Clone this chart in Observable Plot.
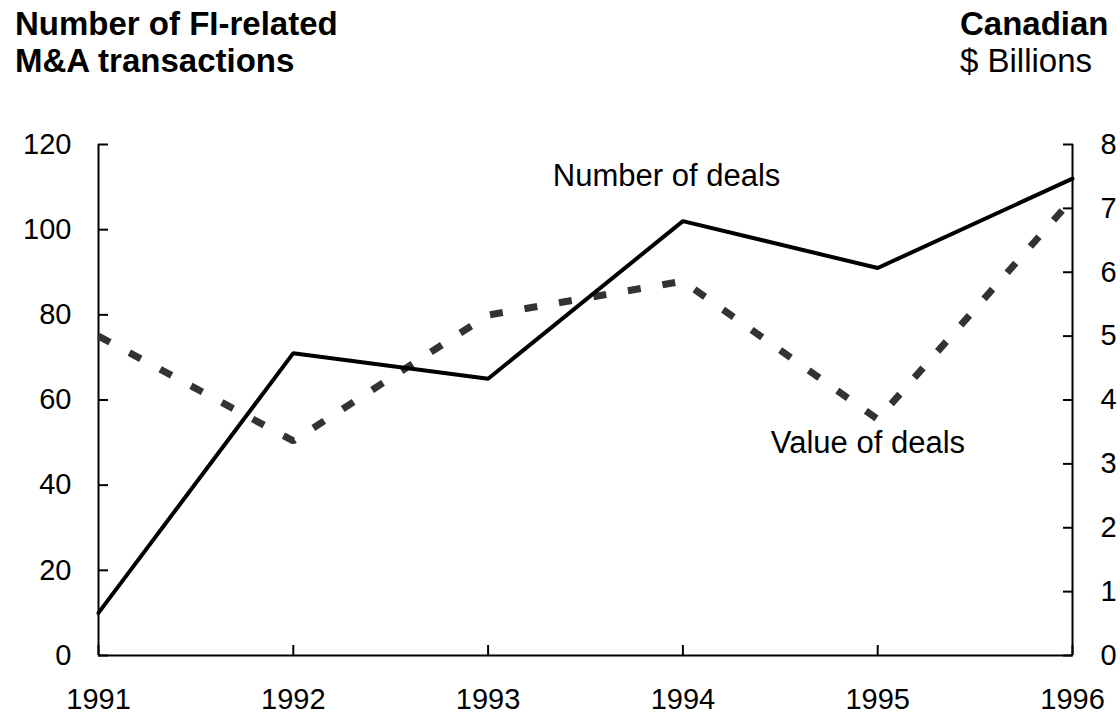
<!DOCTYPE html>
<html>
<head>
<meta charset="utf-8">
<script src="https://cdn.jsdelivr.net/npm/d3@7"></script>
<script src="https://cdn.jsdelivr.net/npm/@observablehq/plot@0.6"></script>
<style>
  html, body { margin: 0; padding: 0; background: #fff; }
  body { width: 1120px; height: 718px; overflow: hidden; font-family: "Liberation Sans", Arial, sans-serif; }
  #header { position: relative; height: 80px; width: 1120px; }
  .hdr { position: absolute; top: 5px; font-size: 33px; line-height: 37px; color: #000; white-space: nowrap; }
  #leftTitle { left: 15px; font-weight: bold; }
  #rightTitle { left: 960px; }
  #chart svg { display: block; }
</style>
</head>
<body>
<div id="header">
  <div id="leftTitle" class="hdr">Number of FI-related<br>M&amp;A transactions</div>
  <div id="rightTitle" class="hdr"><b>Canadian</b><br>$ Billions</div>
</div>
<div id="chart"></div>
<script>
// Data
const years = [1991, 1992, 1993, 1994, 1995, 1996];
const numberOfDeals = [10, 71, 65, 102, 91, 112];          // left axis (count)
const valueOfDeals = [5.0, 3.36, 5.33, 5.86, 3.7, 7.15];   // right axis ($ billions)
const leftTicks = [0, 20, 40, 60, 80, 100, 120];
const rightTicks = [0, 1, 2, 3, 4, 5, 6, 7, 8];
const rightToLeft = 15; // 8 billions ↔ 120 deals
const seriesLabels = [
  {text: "Number of deals", year: 1993.916, level: 112.7},
  {text: "Value of deals", year: 1994.95, level: 49.8}
];

const rows = years.map((y, i) => ({year: y, number: numberOfDeals[i], value: valueOfDeals[i]}));

const chart = Plot.plot({
  width: 1120,
  height: 638,
  marginTop: 64,
  marginBottom: 63,
  marginLeft: 98,
  marginRight: 48,
  style: {fontFamily: "'Liberation Sans', Arial, sans-serif", color: "#000", background: "#fff"},
  x: {domain: [1991, 1996]},
  y: {domain: [0, 120]},
  marks: [
    Plot.axisX({ticks: years, tickFormat: d => String(d), tickSize: -10, tickPadding: 43, fontSize: 29, strokeWidth: 2, label: null}),
    Plot.axisY({ticks: leftTicks, anchor: "left", tickSize: -10, tickPadding: 37, fontSize: 29, strokeWidth: 2, label: null}),
    Plot.axisY({ticks: rightTicks.map(d => d * rightToLeft), anchor: "right", tickFormat: d => String(d / rightToLeft), tickSize: -10, tickPadding: 38, fontSize: 29, strokeWidth: 2, label: null}),
    Plot.ruleY([0], {stroke: "#000", strokeWidth: 2}),
    Plot.ruleX([years[0]], {stroke: "#000", strokeWidth: 2}),
    Plot.ruleX([years[years.length - 1]], {stroke: "#000", strokeWidth: 2}),
    Plot.line(rows, {x: "year", y: d => d.value * rightToLeft, stroke: "#333", strokeWidth: 7, strokeDasharray: "13,22", strokeLinecap: "butt", strokeLinejoin: "miter"}),
    Plot.line(rows, {x: "year", y: "number", stroke: "#000", strokeWidth: 4, strokeLinejoin: "miter"}),
    Plot.text(seriesLabels, {x: "year", y: "level", text: "text", fontSize: 31, fill: "#000"})
  ]
});
document.getElementById("chart").appendChild(chart);
</script>
</body>
</html>
